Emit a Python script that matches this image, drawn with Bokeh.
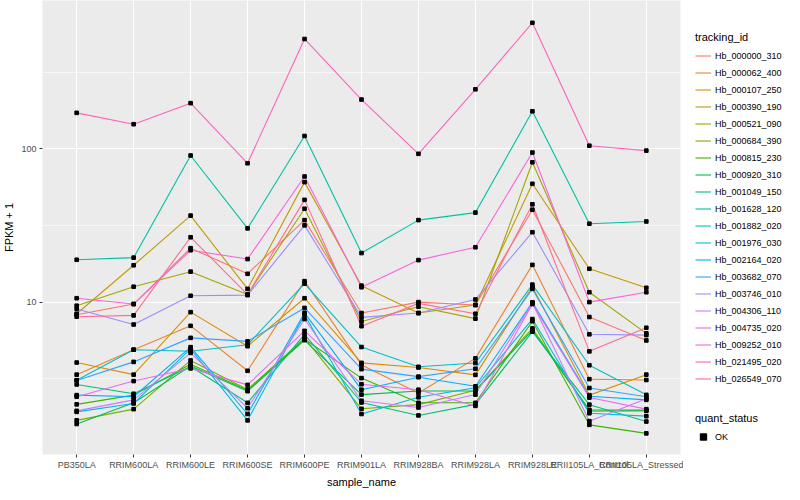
from bokeh.plotting import figure
from bokeh.layouts import row
from bokeh.models import (Range1d, FixedTicker, Legend, LegendItem,
                          ColumnDataSource, BasicTickFormatter)
from bokeh.embed import file_html
from bokeh.resources import INLINE

samples = ["PB350LA", "RRIM600LA", "RRIM600LE", "RRIM600SE", "RRIM600PE",
           "RRIM901LA", "RRIM928BA", "RRIM928LA", "RRIM928LE",
           "RRII105LA_Control", "RRII105LA_Stressed"]

tracking_ids = ["Hb_000000_310", "Hb_000062_400", "Hb_000107_250", "Hb_000390_190",
                "Hb_000521_090", "Hb_000684_390", "Hb_000815_230", "Hb_000920_310",
                "Hb_001049_150", "Hb_001628_120", "Hb_001882_020", "Hb_001976_030",
                "Hb_002164_020", "Hb_003682_070", "Hb_003746_010", "Hb_004306_110",
                "Hb_004735_020", "Hb_009252_010", "Hb_021495_020", "Hb_026549_070"]

colors = ["#F8766D", "#EA8331", "#D89000", "#C09B00", "#A3A500", "#7CAE00",
          "#39B600", "#00BB4E", "#00BF7D", "#00C1A3", "#00BFC4", "#00BAE0",
          "#00B0F6", "#35A2FF", "#9590FF", "#C77CFF", "#E76BF3", "#FA62DB",
          "#FF62BC", "#FF6C91"]

# FPKM + 1 per sample (same order as samples)
Hb_000000_310 = [8.27, 9.71, 22.5, 15.3, 34.3, 8.48, 10.0, 9.57, 40.1, 7.99, 5.62]
Hb_000062_400 = [3.36, 4.89, 7.00, 3.56, 13.7, 3.89, 2.55, 4.29, 17.5, 3.14, 3.10]
Hb_000107_250 = [4.03, 3.36, 8.60, 5.15, 10.6, 4.01, 3.74, 3.35, 12.6, 2.47, 3.36]
Hb_000390_190 = [8.39, 17.4, 36.7, 12.2, 60.7, 12.8, 8.48, 9.57, 59.2, 16.5, 12.4]
Hb_000521_090 = [9.47, 12.6, 15.8, 11.2, 40.7, 7.46, 9.33, 7.80, 81.8, 11.6, 6.25]
Hb_000684_390 = [1.69, 2.00, 4.16, 2.69, 5.81, 2.01, 2.14, 2.66, 6.73, 1.94, 1.95]
Hb_000815_230 = [2.15, 2.47, 3.93, 2.66, 5.72, 3.19, 2.20, 2.20, 7.50, 1.58, 1.39]
Hb_000920_310 = [1.60, 2.20, 3.82, 2.62, 5.64, 2.49, 2.63, 2.63, 6.54, 1.98, 1.97]
Hb_001049_150 = [2.90, 2.52, 3.80, 2.20, 6.16, 2.21, 1.82, 2.15, 6.41, 2.14, 1.66]
Hb_001628_120 = [18.9, 19.5, 90.6, 30.3, 121.5, 20.9, 34.3, 38.4, 176.0, 32.5, 33.6]
Hb_001882_020 = [3.09, 4.89, 4.78, 5.27, 13.2, 5.09, 3.78, 4.00, 13.0, 3.87, 2.48]
Hb_001976_030 = [1.92, 2.18, 4.95, 1.69, 8.27, 1.86, 2.39, 2.76, 7.75, 1.88, 1.80]
Hb_002164_020 = [2.47, 2.41, 5.08, 1.86, 8.51, 2.68, 3.23, 2.82, 9.96, 2.43, 2.30]
Hb_003682_070 = [3.08, 4.07, 5.84, 5.54, 9.16, 3.65, 3.26, 3.67, 12.2, 2.75, 2.41]
Hb_003746_010 = [9.02, 7.14, 11.0, 11.1, 31.7, 7.95, 8.48, 10.4, 28.6, 6.16, 6.09]
Hb_004306_110 = [1.95, 2.30, 4.66, 2.03, 7.75, 2.27, 2.05, 2.49, 9.85, 1.67, 2.34]
Hb_004735_020 = [2.41, 3.05, 3.69, 2.88, 6.49, 2.91, 2.68, 2.10, 9.71, 2.38, 2.00]
Hb_009252_010 = [10.6, 9.71, 21.8, 19.1, 66.1, 12.5, 18.8, 22.8, 94.7, 10.0, 11.6]
Hb_021495_020 = [172.0, 145.0, 199.0, 80.6, 522.0, 210.0, 92.9, 245.0, 666.0, 105.0, 97.5]
Hb_026549_070 = [8.03, 8.19, 26.5, 11.2, 46.5, 6.96, 9.81, 8.39, 43.5, 4.77, 6.80]

series = [Hb_000000_310, Hb_000062_400, Hb_000107_250, Hb_000390_190, Hb_000521_090,
          Hb_000684_390, Hb_000815_230, Hb_000920_310, Hb_001049_150, Hb_001628_120,
          Hb_001882_020, Hb_001976_030, Hb_002164_020, Hb_003682_070, Hb_003746_010,
          Hb_004306_110, Hb_004735_020, Hb_009252_010, Hb_021495_020, Hb_026549_070]

quant_status = ["OK"]

y_ticks = [10, 100]
y_minor = [10 ** 0.5, 10 ** 1.5, 10 ** 2.5]

FONT = "Liberation Sans"
FW, FH = 638, 454
H = 482
LW = 100

xs = list(range(1, len(samples) + 1))

p = figure(frame_width=FW, frame_height=FH, y_axis_type="log",
           x_range=Range1d(0.4, len(samples) + 0.6),
           y_range=Range1d(10 ** 0.005, 10 ** 2.969),
           output_backend="svg", toolbar_location=None,
           min_border_left=0, min_border_right=3, min_border_top=0, min_border_bottom=0,
           background_fill_color="#EBEBEB", border_fill_color="white",
           outline_line_color=None)

for vals, col in zip(series, colors):
    p.line(xs, vals, line_color=col, line_width=1.1)

px, py = [], []
for vals in series:
    px += xs
    py += vals
src = ColumnDataSource(dict(x=px, y=py))
p.scatter("x", "y", source=src, marker="square", size=3.6, color="black")

xt = FixedTicker(ticks=xs)
yt = FixedTicker(ticks=y_ticks, minor_ticks=y_minor)
p.xaxis.ticker = xt
p.xgrid.ticker = xt
p.xaxis.major_label_overrides = {i + 1: s for i, s in enumerate(samples)}
p.yaxis.ticker = yt
p.ygrid.ticker = yt
p.yaxis.formatter = BasicTickFormatter()

p.xgrid.grid_line_color = "white"
p.xgrid.grid_line_width = 1.1
p.ygrid.grid_line_color = "white"
p.ygrid.grid_line_width = 1.1
p.ygrid.minor_grid_line_color = "white"
p.ygrid.minor_grid_line_width = 0.6

p.xaxis.axis_label = "sample_name"
p.yaxis.axis_label = "FPKM + 1"
for ax in (p.xaxis[0], p.yaxis[0]):
    ax.axis_line_color = None
    ax.major_tick_line_color = "#333333"
    ax.major_tick_in = 0
    ax.major_tick_out = 3
    ax.minor_tick_line_color = None
    ax.major_label_text_font = FONT
    ax.major_label_text_font_size = "9px"
    ax.major_label_text_color = "#4D4D4D"
    ax.major_label_standoff = 2
    ax.axis_label_text_font = FONT
    ax.axis_label_text_font_size = "11px"
    ax.axis_label_text_font_style = "normal"
    ax.axis_label_text_color = "black"
    ax.axis_label_standoff = 3

# legend panel: a separate, axis-less figure whose frame hosts both legends.
# Its renderers draw the same series, but outside its visible range.
lg = figure(width=LW, height=H, x_range=Range1d(-1, 0), y_range=Range1d(-1, 0),
            x_axis_type=None, y_axis_type=None, output_backend="svg",
            toolbar_location=None, min_border=0, outline_line_color=None,
            background_fill_color="white", border_fill_color="white")
lg.xgrid.visible = False
lg.ygrid.visible = False

items = []
for tid, vals, col in zip(tracking_ids, series, colors):
    r = lg.line(xs, vals, line_color=col, line_width=1.1)
    items.append(LegendItem(label=tid, renderers=[r]))
rp = lg.scatter("x", "y", source=src, marker="square", size=3.6, color="black")
items2 = [LegendItem(label=s, renderers=[rp]) for s in quant_status]


def style_legend(L):
    L.title_text_font = FONT
    L.title_text_font_size = "11px"
    L.title_text_font_style = "normal"
    L.title_text_color = "black"
    L.title_standoff = 4
    L.label_text_font = FONT
    L.label_text_font_size = "9px"
    L.label_text_color = "black"
    L.glyph_width = 16
    L.glyph_height = 17
    L.label_height = 17
    L.label_standoff = 4
    L.spacing = 0
    L.padding = 2
    L.margin = 0
    L.border_line_color = None
    L.background_fill_color = "white"
    L.background_fill_alpha = 1.0


leg1_h = 2 + 13 + 4 + 17 * len(tracking_ids) + 2
leg1 = Legend(items=items, title="tracking_id", location=(12, H - (25 + leg1_h) - 37))
style_legend(leg1)
lg.add_layout(leg1, "center")

leg2_h = 2 + 13 + 4 + 17 * len(items2) + 2
leg2 = Legend(items=items2, title="quant_status", location=(12, H - (404 + leg2_h) - 39))
style_legend(leg2)
lg.add_layout(leg2, "center")

layout = row(p, lg)
open("out.html", "w").write(file_html(layout, INLINE))
